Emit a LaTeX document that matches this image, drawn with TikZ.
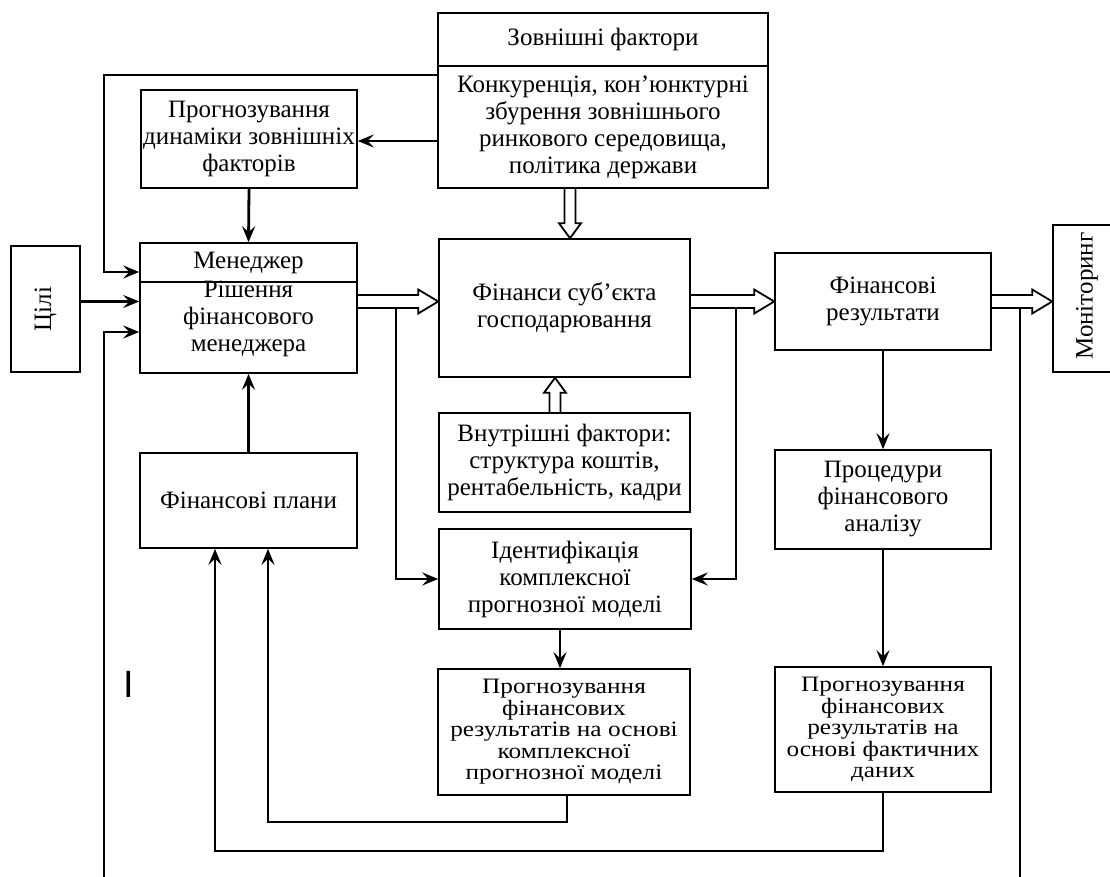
\documentclass[tikz,border=0pt]{standalone}
\usepackage{fontspec}
\setmainfont{Liberation Serif}
\setsansfont{Liberation Sans}
\newfontfamily\widefont{Liberation Serif}[FakeStretch=1.15]
\usetikzlibrary{arrows.meta,calc}
\newcommand\mfs{\fontsize{25}{27}\selectfont}
\newcommand\bfs{\widefont\fontsize{22}{21.5}\selectfont}
\newcommand\hollowright[2]{\draw[hollow] let \p1=#1, \p2=#2 in
  (\x1,\y1+6.5pt) -- (\x2-20pt,\y1+6.5pt) -- (\x2-20pt,\y1+12pt) -- (\x2,\y1)
  -- (\x2-20pt,\y1-12pt) -- (\x2-20pt,\y1-6.5pt) -- (\x1,\y1-6.5pt);}
\newcommand\hollowdown[2]{\draw[hollow] let \p1=#1, \p2=#2 in
  (\x1-5.5pt,\y1) -- (\x1-5.5pt,\y2+15pt) -- (\x1-11pt,\y2+15pt) -- (\x1,\y2)
  -- (\x1+11pt,\y2+15pt) -- (\x1+5.5pt,\y2+15pt) -- (\x1+5.5pt,\y1);}
\newcommand\hollowup[2]{\draw[hollow] let \p1=#1, \p2=#2 in
  (\x1-5.5pt,\y1) -- (\x1-5.5pt,\y2-15pt) -- (\x1-11pt,\y2-15pt) -- (\x1,\y2)
  -- (\x1+11pt,\y2-15pt) -- (\x1+5.5pt,\y2-15pt) -- (\x1+5.5pt,\y1);}
\tikzset{
  box/.style={draw, line width=1.6pt, inner sep=0pt, align=center, font=\mfs},
  bbox/.style={draw, line width=1.6pt, inner sep=0pt, align=center, font=\bfs},
  txt/.style={inner sep=0pt, align=center, font=\mfs},
  conn/.style={line width=2.8pt},
  arr/.style={line width=2.8pt, -{Stealth[length=16pt,width=13pt,inset=6pt]}},
  hollow/.style={line width=1.8pt, line join=miter}
}
\begin{document}
\begin{tikzpicture}[x=1pt,y=-1pt]
\useasboundingbox (0,0) rectangle (1110,877);
\clip (0,0) rectangle (1110,877);
% boxes
\node[box, minimum width=330, minimum height=53] (exth) at (603,39.5) {Зовнішні фактори};
\node[box, minimum width=330, minimum height=122] (ext) at (603,127)
  {Конкуренція, кон’юнктурні\\збурення зовнішнього\\ринкового середовища,\\політика держави};
\node[box, minimum width=216, minimum height=98] (prdyn) at (249,139)
  {Прогнозування\\динаміки зовнішніх\\факторів};
\node[box, minimum width=217, minimum height=39] (mgrh) at (248.5,262.5) {Менеджер};
\node[box, minimum width=217, minimum height=91] (mgr) at (248.5,327.5) {};
\node[txt] (mgrt) at (248.5,319) {Рішення\\фінансового\\менеджера};
\node[box, minimum width=69, minimum height=126] (goals) at (45.5,309) {\rotatebox{90}{Цілі}};
\node[box, minimum width=251, minimum height=138] (fin) at (564.5,308)
  {Фінанси суб'єкта\\господарювання};
\node[box, minimum width=251, minimum height=99] (inner) at (564.5,462.5)
  {Внутрішні фактори:\\структура коштів,\\рентабельність, кадри};
\node[box, minimum width=252, minimum height=100] (ident) at (565,579)
  {Ідентифікація\\комплексної\\прогнозної моделі};
\node[box, minimum width=216, minimum height=97] (res) at (883,301.5)
  {Фінансові\\результати};
\node[box, minimum width=85, minimum height=147] (mon) at (1095.5,298.5) {};
\node[txt] (mont) at (1087,296) {\rotatebox{90}{Моніторинг}};
\node[box, minimum width=216, minimum height=99] (proc) at (883,499.5)
  {Процедури\\фінансового\\аналізу};
\node[box, minimum width=217, minimum height=95] (plans) at (248.5,500.5) {Фінансові плани};
\node[bbox, minimum width=252, minimum height=126] (pcm) at (564,732)
  {Прогнозування\\фінансових\\результатів на основі\\комплексної\\прогнозної моделі};
\node[bbox, minimum width=216, minimum height=125] (pfd) at (883,729.5)
  {Прогнозування\\фінансових\\результатів на\\основі фактичних\\даних};
\node[inner sep=0pt, font=\sffamily\fontsize{38}{38}\selectfont] (cursor) at (128.5,684) {I};
% helper coordinates
\coordinate (ya) at (0,141);
\coordinate (yl) at (0,75);
\coordinate (xL) at (104,0);
\coordinate (ym1) at (0,272);
\coordinate (ym3) at (0,332);
\coordinate (ybot) at (0,890);
\coordinate (ysh) at (0,308);
\coordinate (xl2) at (396,0);
\coordinate (xr2) at (736,0);
\coordinate (xrr) at (1020,0);
\coordinate (xpc) at (567,0);
\coordinate (y822) at (0,822);
\coordinate (y851) at (0,851);
\coordinate (x268) at (268,0);
\coordinate (x215) at (215,0);
\coordinate (xd) at (570,0);
\coordinate (xu) at (555,0);
\coordinate (xid) at (560,0);
% connectors
\draw[arr] (ext.west |- ya) -- (prdyn.east |- ya);
\draw[arr] (ext.west |- yl) -- (xL |- yl) -- (xL |- ym1) -- (mgrh.west |- ym1);
\draw[arr] (goals.east |- res.west) -- (mgr.west |- res.west);
\draw[arr] (xL |- ybot) -- (xL |- ym3) -- (mgr.west |- ym3);
\draw[arr] (prdyn.south) -- (mgrh.north);
\draw[arr] (plans.north) -- (mgr.south);
\draw[arr] (xl2 |- ysh) -- (xl2 |- ident.west) -- (ident.west);
\draw[arr] (xr2 |- ysh) -- (xr2 |- ident.east) -- (ident.east);
\draw[arr] (ident.south -| xid) -- (pcm.north -| xid);
\draw[arr] (res.south) -- (proc.north);
\draw[arr] (proc.south) -- (pfd.north);
\draw[arr] (pcm.south -| xpc) -- (xpc |- y822) -- (x268 |- y822) -- (plans.south -| x268);
\draw[arr] (pfd.south) -- (pfd.south |- y851) -- (x215 |- y851) -- (plans.south -| x215);
\draw[conn] (xrr |- ysh) -- (xrr |- ybot);
% hollow arrows
\hollowright{(mgr.east |- res.west)}{(fin.west)}
\hollowright{(fin.east |- res.west)}{(res.west)}
\hollowright{(res.east)}{(mon.west)}
\hollowdown{(ext.south -| xd)}{(fin.north -| xd)}
\hollowup{(inner.north -| xu)}{(fin.south -| xu)}
\end{tikzpicture}
\end{document}
